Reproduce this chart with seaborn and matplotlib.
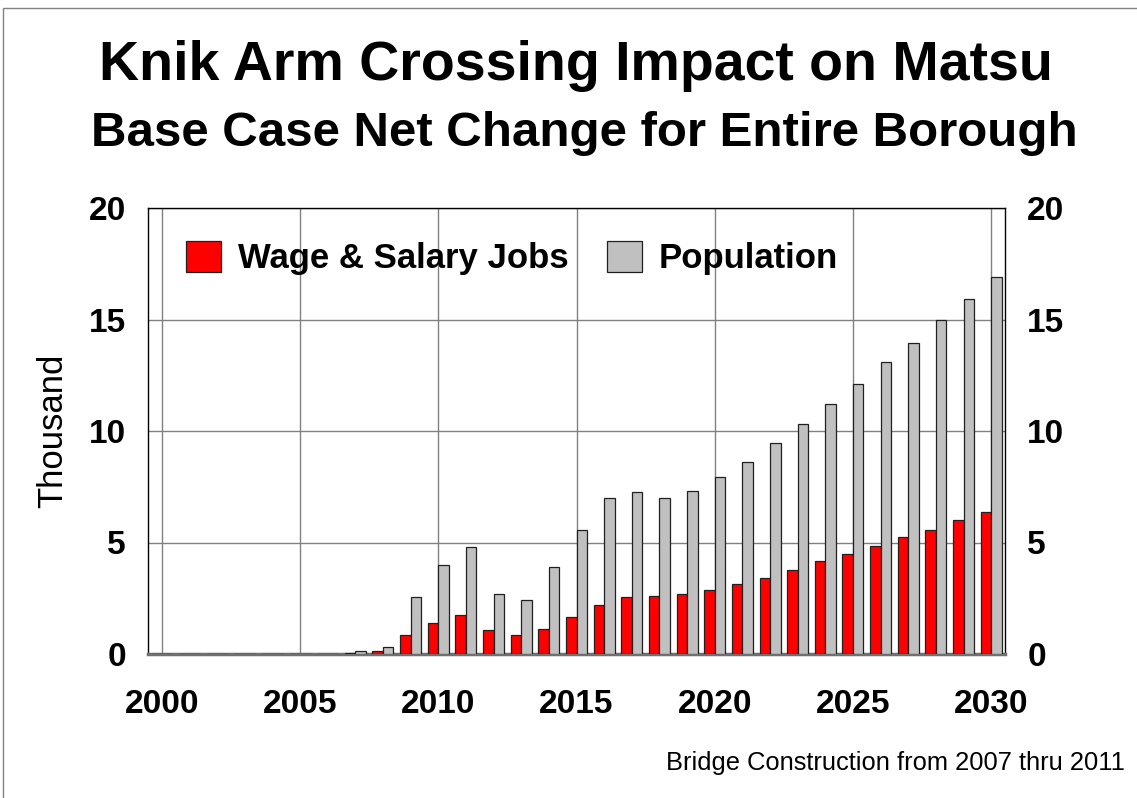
import matplotlib
matplotlib.use("Agg")
import matplotlib.pyplot as plt
import matplotlib.patches as mpatches
import numpy as np
import pandas as pd
import seaborn as sns

years = list(range(2000, 2031))
wage_salary_jobs = [0.02, 0.02, 0.02, 0.02, 0.02, 0.02, 0.02, 0.05, 0.13, 0.87,
                    1.41, 1.75, 1.08, 0.87, 1.14, 1.68, 2.20, 2.56, 2.61, 2.67,
                    2.88, 3.15, 3.42, 3.76, 4.17, 4.50, 4.86, 5.25, 5.58, 5.99,
                    6.38]
population = [0.02, 0.02, 0.02, 0.02, 0.02, 0.02, 0.02, 0.13, 0.33, 2.56,
              3.98, 4.79, 2.69, 2.42, 3.90, 5.58, 7.01, 7.28, 7.01, 7.32,
              7.94, 8.63, 9.44, 10.32, 11.19, 12.12, 13.08, 13.96, 14.98, 15.90,
              16.90]
series_names = ["Wage & Salary Jobs", "Population"]
series_colors = ["#FF0000", "#C0C0C0"]
y_ticks = [0, 5, 10, 15, 20]
x_tick_years = [2000, 2005, 2010, 2015, 2020, 2025, 2030]

sns.set_theme(style="white")
plt.rcParams["font.family"] = ["Liberation Sans", "DejaVu Sans"]
plt.rcParams["text.color"] = "black"
plt.rcParams["axes.labelcolor"] = "black"
plt.rcParams["xtick.color"] = "black"
plt.rcParams["ytick.color"] = "black"

df = pd.DataFrame({
    "Year": years * 2,
    "Value": wage_salary_jobs + population,
    "Series": [series_names[0]] * len(years) + [series_names[1]] * len(years),
})

fig = plt.figure(figsize=(11.37, 7.98), dpi=100)
ax = fig.add_axes([148 / 1137, 1 - 654 / 798, (1005 - 148) / 1137, (654 - 208) / 798])

sns.barplot(data=df, x="Year", y="Value", hue="Series", hue_order=series_names,
            palette=series_colors, width=0.76, gap=0, edgecolor="#202020",
            linewidth=0.9, saturation=1, legend=False, ax=ax, zorder=3)

ax.set_ylim(0, 20)
ax.set_xlim(-0.5, 30.5)
ax.set_yticks(y_ticks)
ax.set_yticklabels([str(t) for t in y_ticks], fontsize=24, fontweight="bold")
ax.set_xticks([years.index(y) for y in x_tick_years])
ax.set_xticklabels([str(y) for y in x_tick_years], fontsize=24, fontweight="bold")
ax.tick_params(axis="y", length=0, pad=16)
ax.tick_params(axis="x", length=0, pad=25)
ax.set_xlabel("")
ax.set_ylabel("Thousand", fontsize=25, labelpad=14)

ax.grid(True, axis="both", color="#808080", linewidth=1.0, zorder=0)
ax.set_axisbelow(True)
for side in ["left", "right", "top"]:
    ax.spines[side].set_color("#000000")
    ax.spines[side].set_linewidth(1.0)
ax.spines["bottom"].set_color("#707070")
ax.spines["bottom"].set_linewidth(2.5)

ax2 = ax.twinx()
ax2.set_ylim(0, 20)
ax2.set_yticks(y_ticks)
ax2.set_yticklabels([str(t) for t in y_ticks], fontsize=24, fontweight="bold")
ax2.tick_params(axis="y", length=0, pad=16)
ax2.grid(False)
for s in ax2.spines.values():
    s.set_visible(False)

handles = [mpatches.Patch(facecolor=c, edgecolor="#202020", linewidth=0.9, label=n)
           for n, c in zip(series_names, series_colors)]
ax.legend(handles=handles, loc="upper left", bbox_to_anchor=(0.008, 0.996), ncol=2,
          frameon=False, prop={"size": 25, "weight": "bold"}, handlelength=1.0,
          handleheight=1.0, handletextpad=0.5, columnspacing=1.1)

fig.text(576 / 1137, 1 - 66 / 798, "Knik Arm Crossing Impact on Matsu", ha="center", va="center",
         fontsize=40, fontweight="bold")
fig.text(584 / 1137, 1 - 134 / 798, "Base Case Net Change for Entire Borough", ha="center", va="center",
         fontsize=35.5, fontweight="bold")
fig.text(1125 / 1137, 1 - 763 / 798, "Bridge Construction from 2007 thru 2011", ha="right",
         va="center", fontsize=18.4)

fig.patches.append(mpatches.Rectangle((3 / 1137, -0.1), 1.2, 1 - 8 / 798 + 0.1,
                                      transform=fig.transFigure, fill=False,
                                      edgecolor="#808080", linewidth=1.0))

fig.savefig("out.png", dpi=100)
